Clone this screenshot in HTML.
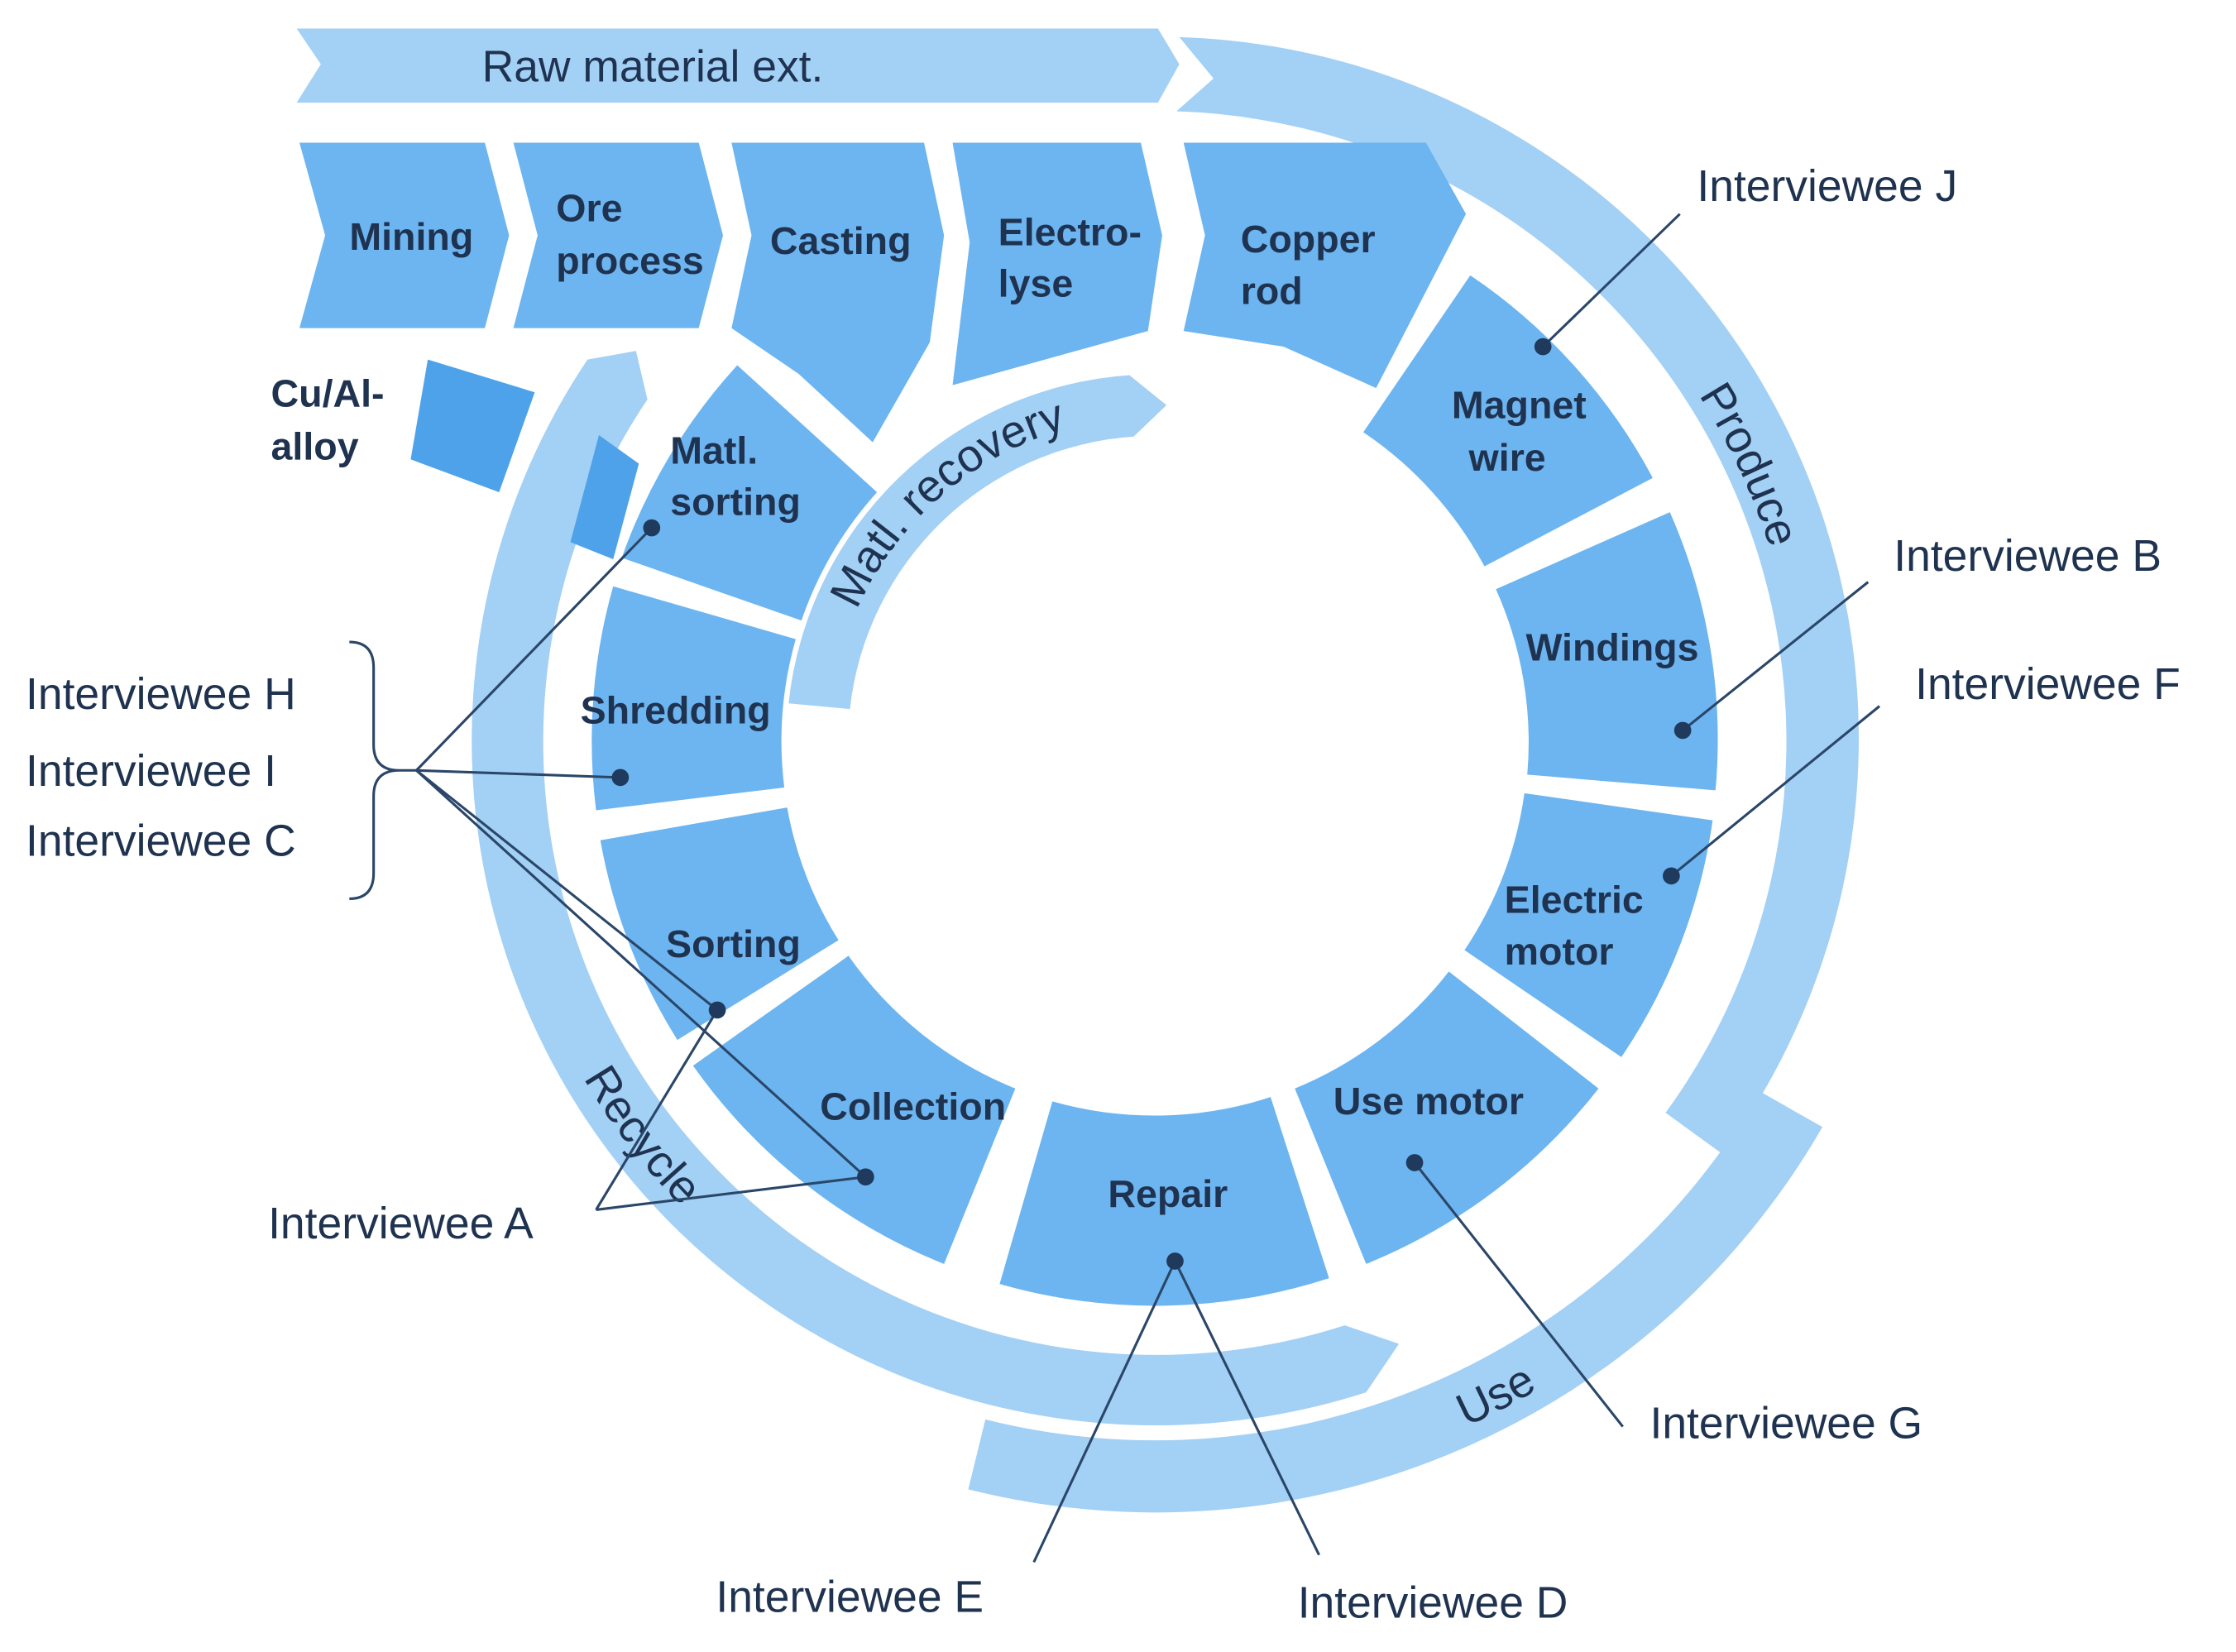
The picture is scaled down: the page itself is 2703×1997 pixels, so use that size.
<!DOCTYPE html>
<html><head><meta charset="utf-8"><style>
html,body{margin:0;padding:0;background:#fff;}
svg{display:block;}
.seg{fill:#6db5f0;}
.band{fill:#a3d0f5;}
.lb{font-family:"Liberation Sans",sans-serif;font-weight:bold;font-size:27px;fill:#1f3350;}
.iv{font-family:"Liberation Sans",sans-serif;font-size:31px;fill:#1f3350;}
.bt{font-family:"Liberation Sans",sans-serif;font-size:32px;fill:#1f3350;}
.ln{stroke:#2a4668;stroke-width:1.8;fill:none;}
.dot{fill:#1f3a5c;}
</style></head><body>
<svg width="2703" height="1997" viewBox="0 0 1568 1158" preserveAspectRatio="none" xmlns="http://www.w3.org/2000/svg">
<defs>
<path id="pMat" d="M585,480 A228 228 0 0 1 802,292"/>
<path id="pPro" d="M1101,174 A452 452 0 0 1 1262,520"/>
<path id="pRec" d="M361,640 A465 465 0 0 0 577,923"/>
<path id="pUse" d="M902,1039 A527 527 0 0 0 1183,893"/>
</defs>
<!-- Bands -->
<polygon class="band" points="208,20 812,20 827,45 812,72 208,72 225,45"/>
<path class="band" d="M827,26 A492 492 0 0 1 1208,809 L1168,780 A442 442 0 0 0 825,78 L851,55 Z"/>
<path class="band" d="M958,976 A480 480 0 0 1 412,252 L446,246 L454,280 A430 430 0 0 0 943,929 L981,942 Z"/>
<path class="band" d="M1278,790 A540 540 0 0 1 679,1044 L691,995 A490 490 0 0 0 1234,765 Z"/>
<!-- top row -->
<polygon class="seg" points="210,100 340,100 357,165 340,230 210,230 228,165"/>
<polygon class="seg" points="360,100 490,100 507,165 490,230 360,230 377,165"/>
<polygon class="seg" points="513,100 648,100 662,165 652,240 612,310 560,262 513,230 527,165"/>
<polygon class="seg" points="668,100 800,100 815,165 805,232 668,270 680,170"/>
<polygon class="seg" points="830,100 1000,100 1028,150 965,272 900,243 830,232 845,165"/>
<!-- Cu/Al -->
<polygon fill="#4da2ea" points="300,252 375,275 350,345 288,322"/>
<polygon fill="#4da2ea" points="420,305 448,325 430,392 400,380"/>
<!-- ring segments -->
<path class="seg" d="M1031,193 A395 395 0 0 1 1159,335 L1041,397 A262 262 0 0 0 956,303 Z"/>
<path class="seg" d="M1171,359 A395 395 0 0 1 1203,554 L1071,543 A262 262 0 0 0 1049,413 Z"/>
<path class="seg" d="M1201,575 A395 395 0 0 1 1137,741 L1027,666 A262 262 0 0 0 1069,556 Z"/>
<path class="seg" d="M1121,763 A395 395 0 0 1 958,886 L908,763 A262 262 0 0 0 1016,681 Z"/>
<path class="seg" d="M932,896 A395 395 0 0 1 701,900 L738,772 A262 262 0 0 0 891,769 Z"/>
<path class="seg" d="M662,886 A395 395 0 0 1 486,747 L595,670 A262 262 0 0 0 712,763 Z"/>
<path class="seg" d="M475,729 A395 395 0 0 1 421,589 L552,566 A262 262 0 0 0 588,659 Z"/>
<path class="seg" d="M418,568 A395 395 0 0 1 430,411 L558,448 A262 262 0 0 0 550,552 Z"/>
<path class="seg" d="M436,391 A395 395 0 0 1 517,256 L615,345 A262 262 0 0 0 562,435 Z"/>
<!-- Matl recovery band -->
<path class="band" d="M596,497 L553,493 A258 258 0 0 1 792,263 L818,284 L795,306 A215 215 0 0 0 596,497 Z"/>
<!-- band texts -->
<text class="iv" x="338" y="57">Raw material ext.</text>
<text class="bt"><textPath href="#pMat" startOffset="50%" text-anchor="middle">Matl. recovery</textPath></text>
<text class="bt"><textPath href="#pPro" startOffset="50%" text-anchor="middle">Produce</textPath></text>
<text class="bt"><textPath href="#pRec" startOffset="50%" text-anchor="middle">Recycle</textPath></text>
<text class="bt"><textPath href="#pUse" startOffset="50%" text-anchor="middle">Use</textPath></text>
<!-- segment labels -->
<text class="lb" x="245" y="175">Mining</text>
<text class="lb" x="390" y="155">Ore</text><text class="lb" x="390" y="192">process</text>
<text class="lb" x="540" y="178">Casting</text>
<text class="lb" x="700" y="172">Electro-</text><text class="lb" x="700" y="208">lyse</text>
<text class="lb" x="870" y="177">Copper</text><text class="lb" x="870" y="213">rod</text>
<text class="lb" x="1018" y="293">Magnet</text><text class="lb" x="1030" y="330">wire</text>
<text class="lb" x="1070" y="463">Windings</text>
<text class="lb" x="1055" y="640">Electric</text><text class="lb" x="1055" y="676">motor</text>
<text class="lb" x="935" y="781">Use motor</text>
<text class="lb" x="777" y="846">Repair</text>
<text class="lb" x="575" y="785">Collection</text>
<text class="lb" x="467" y="671">Sorting</text>
<text class="lb" x="407" y="507">Shredding</text>
<text class="lb" x="470" y="325">Matl.</text><text class="lb" x="470" y="361">sorting</text>
<text class="lb" x="190" y="285">Cu/Al-</text><text class="lb" x="190" y="322">alloy</text>
<!-- leader lines -->
<g class="ln">
<line x1="1178" y1="150" x2="1082" y2="243"/>
<line x1="1310" y1="408" x2="1180" y2="512"/>
<line x1="1318" y1="495" x2="1172" y2="614"/>
<line x1="1138" y1="1000" x2="992" y2="815"/>
<line x1="925" y1="1090" x2="824" y2="884"/>
<line x1="725" y1="1095" x2="824" y2="884"/>
<line x1="418" y1="848" x2="503" y2="708"/>
<line x1="418" y1="848" x2="607" y2="825"/>
<line x1="292" y1="540" x2="457" y2="370"/>
<line x1="292" y1="540" x2="435" y2="545"/>
<line x1="292" y1="540" x2="503" y2="708"/>
<line x1="292" y1="540" x2="607" y2="825"/>
<path d="M245,450 Q262,450 262,468 L262,522 Q262,540 280,540 L292,540 M280,540 Q262,540 262,558 L262,612 Q262,630 245,630"/>
</g>
<g class="dot">
<circle cx="1082" cy="243" r="6"/><circle cx="457" cy="370" r="6"/><circle cx="435" cy="545" r="6"/>
<circle cx="1180" cy="512" r="6"/><circle cx="1172" cy="614" r="6"/><circle cx="503" cy="708" r="6"/>
<circle cx="607" cy="825" r="6"/><circle cx="992" cy="815" r="6"/><circle cx="824" cy="884" r="6"/>
</g>
<!-- interviewees -->
<text class="iv" x="1190" y="141">Interviewee J</text>
<text class="iv" x="1328" y="400">Interviewee B</text>
<text class="iv" x="1343" y="490">Interviewee F</text>
<text class="iv" x="18" y="497">Interviewee H</text>
<text class="iv" x="18" y="551">Interviewee I</text>
<text class="iv" x="18" y="600">Interviewee C</text>
<text class="iv" x="188" y="868">Interviewee A</text>
<text class="iv" x="1157" y="1008">Interviewee G</text>
<text class="iv" x="502" y="1130">Interviewee E</text>
<text class="iv" x="910" y="1134">Interviewee D</text>
</svg>
</body></html>
